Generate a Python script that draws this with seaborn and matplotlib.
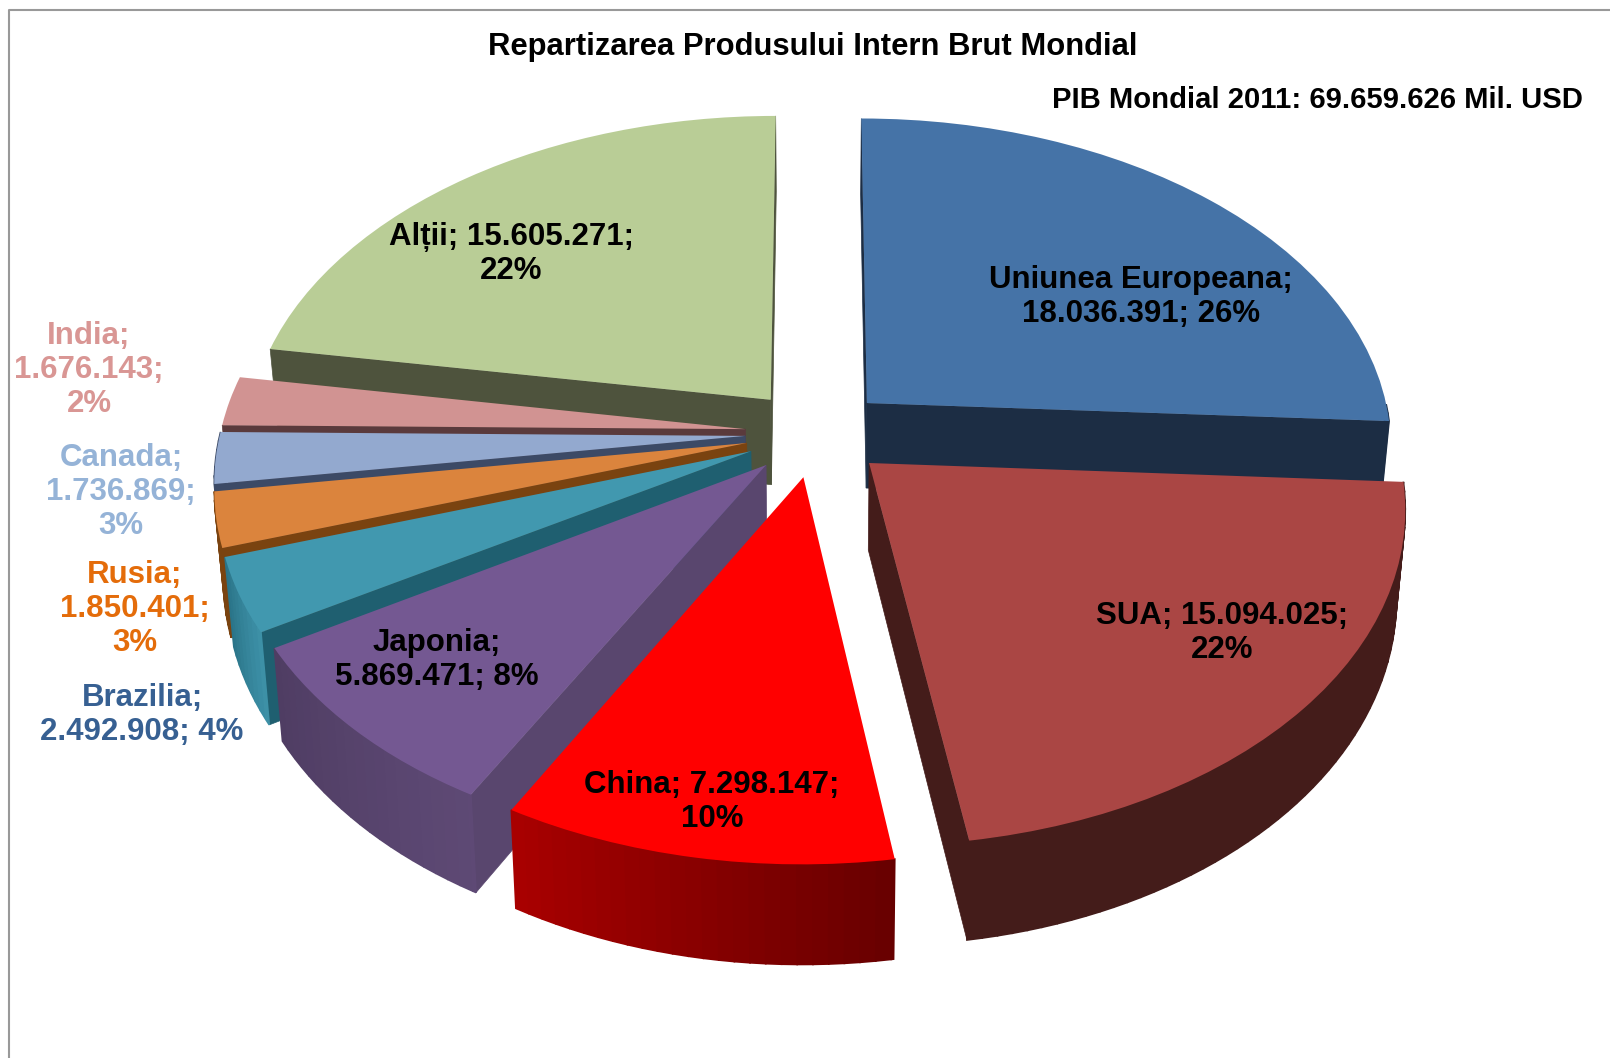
import numpy as np
import matplotlib
matplotlib.use('Agg')
import matplotlib.pyplot as plt
from matplotlib.patches import Polygon
from matplotlib.transforms import Transform
import seaborn as sns

regions = ['Uniunea Europeana', 'SUA', 'China', 'Japonia', 'Brazilia',
           'Rusia', 'Canada', 'India', 'Alții']
gdp = [18036391, 15094025, 7298147, 5869471, 2492908,
       1850401, 1736869, 1676143, 15605271]
labels = ['Uniunea Europeana;\n18.036.391; 26%', 'SUA; 15.094.025;\n22%',
          'China; 7.298.147;\n10%', 'Japonia;\n5.869.471; 8%',
          'Brazilia;\n2.492.908; 4%', 'Rusia;\n1.850.401;\n3%',
          'Canada;\n1.736.869;\n3%', 'India;\n1.676.143;\n2%',
          'Alții; 15.605.271;\n22%']
label_xy = [(1141, 297), (1222, 633), (712, 802), (437, 660), (142, 715),
            (135, 609), (121, 492), (89, 370), (511, 254)]
label_colors = ['black', 'black', 'black', 'black', '#376092',
                '#e46c0a', '#95b3d7', '#d99694', 'black']

top_colors = ['#4573a7', '#aa4644', '#ff0000', '#745892', '#4198af',
              '#db843d', '#93a9cf', '#d19392', '#b9cd96']
cut_colors = ['#1c2d44', '#441c1a', '#a00000', '#59466e', '#1f5f70',
              '#7a4310', '#3c4a66', '#5a3a3c', '#4e533d']
# outer wall, left end and right end of the shading
wall_colors = [('#1c2d44', '#1c2d44'), ('#441c1a', '#441c1a'),
               ('#a80000', '#640000'), ('#4f3d63', '#5f4a76'),
               ('#2a7488', '#3f93aa'), ('#7a4310', '#7a4310'),
               ('#3c4a66', '#3c4a66'), ('#5a3a3c', '#5a3a3c'),
               ('#4e533d', '#4e533d')]
explode = [0.135] * 9
draw_order = [0, 8, 7, 6, 5, 4, 3, 1, 2]

# view of the tilted pie, in pixels of the picture
CX, CY = 816, 433
RX, RY = 525, 327
PERSP = 0.1246
DEPTH = 86


def project(xy, drop=0.0):
    xy = np.atleast_2d(xy)
    w = 1 + PERSP * xy[:, 1]
    shrink = 1 - 0.015 * (drop > 0)
    sx = CX + shrink * RX * xy[:, 0] / w
    sy = CY - RY * xy[:, 1] / w + drop / w
    return np.column_stack([sx, sy])


class TiltTransform(Transform):
    input_dims = 2
    output_dims = 2
    is_separable = False
    has_inverse = False

    def transform_non_affine(self, values):
        return project(values)


sns.set_theme(style='white')
plt.rcParams['font.family'] = ['Liberation Sans', 'DejaVu Sans']

fig = plt.figure(figsize=(16.1, 10.58), dpi=100)
ax = fig.add_axes([0, 0, 1, 1])

wedges, _ = ax.pie(gdp, explode=explode, colors=top_colors, startangle=90,
                   counterclock=False, wedgeprops={'linewidth': 0})
ax.set_aspect('auto')
ax.set_xlim(0, 1610)
ax.set_ylim(1058, 0)
ax.axis('off')

tilt = TiltTransform()
for rank, i in enumerate(draw_order):
    w = wedges[i]
    z = 2 + 2 * rank
    c = np.array(w.center)
    t1, t2 = w.theta1, w.theta2

    # straight cut faces
    for edge, normal in ((t1, t1 - 90), (t2, t2 + 90)):
        if np.sin(np.radians(normal)) < 0.02:
            rim = c + [np.cos(np.radians(edge)), np.sin(np.radians(edge))]
            ground = np.array([c, rim])
            face = np.vstack([project(ground), project(ground[::-1], DEPTH)])
            ax.add_patch(Polygon(face, closed=True, color=cut_colors[i],
                                 lw=0.5, zorder=z))

    # outer wall, in small strips for the shading
    thetas = np.arange(t1, t2 + 1.5, 1.5)
    thetas[-1] = t2
    shades = sns.blend_palette(wall_colors[i], len(thetas))
    order = np.argsort(project(np.column_stack([np.cos(np.radians(thetas)),
                                                np.sin(np.radians(thetas))]) + c)[:, 0])
    ranks = np.empty(len(thetas), dtype=int)
    ranks[order] = np.arange(len(thetas))
    for k in range(len(thetas) - 1):
        a, b = np.radians(thetas[k]), np.radians(thetas[k + 1])
        if np.sin((a + b) / 2) > 0:
            continue
        ground = c + np.array([[np.cos(a), np.sin(a)], [np.cos(b), np.sin(b)]])
        strip = np.vstack([project(ground), project(ground[::-1], DEPTH)])
        ax.add_patch(Polygon(strip, closed=True, color=shades[ranks[k]],
                             lw=1.2, zorder=z))

    w.set_transform(tilt + ax.transData)
    w.set_zorder(z + 1)

for text, xy, col in zip(labels, label_xy, label_colors):
    ax.text(xy[0], xy[1], text, color=col, fontsize=22.5, fontweight='bold',
            ha='center', va='center', linespacing=1.17, zorder=40)

ax.text(813, 47, 'Repartizarea Produsului Intern Brut Mondial', fontsize=22.3,
        fontweight='bold', color='black', ha='center', va='center', zorder=40)
ax.text(1583, 100, 'PIB Mondial 2011: 69.659.626 Mil. USD', fontsize=21.1,
        fontweight='bold', color='black', ha='right', va='center', zorder=40)

# chart frame, cut by the picture on the right and at the bottom
ax.plot([9, 9, 1610], [1058, 10, 10], color='#999999', lw=1.5, zorder=50)

fig.savefig('out.png', dpi=100)
